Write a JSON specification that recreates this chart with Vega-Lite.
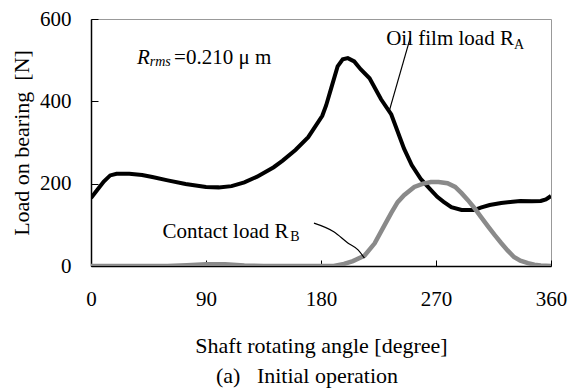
{
  "$schema": "https://vega.github.io/schema/vega-lite/v6.json",
  "autosize": {"type": "none"},
  "padding": {"left": 91, "top": 19, "right": 18, "bottom": 125},
  "width": 460,
  "height": 247,
  "background": "white",
  "config": {
    "font": "Liberation Serif",
    "view": {"stroke": "#999999", "strokeWidth": 1},
    "axis": {"grid": false, "domainColor": "black", "domainWidth": 1.5, "tickColor": "black", "tickWidth": 1, "labelFont": "Liberation Serif", "titleFont": "Liberation Serif", "labelFontSize": 21, "titleFontSize": 22, "labelColor": "black", "titleColor": "black", "titleFontWeight": "normal", "labelFlush": false},
    "title": {"font": "Liberation Serif", "fontSize": 22, "fontWeight": "normal", "color": "black"}
  },
  "title": {"text": "(a)\u00a0\u00a0\u00a0Initial operation", "orient": "bottom", "anchor": "middle", "offset": 10, "dx": -14},
  "datasets": {
    "ra": [
      {"angle": 0, "load": 165}, {"angle": 5, "load": 185}, {"angle": 10, "load": 205}, {"angle": 15, "load": 220},
      {"angle": 20, "load": 224}, {"angle": 30, "load": 224}, {"angle": 40, "load": 221}, {"angle": 48, "load": 216},
      {"angle": 60, "load": 208}, {"angle": 74, "load": 199}, {"angle": 90, "load": 192}, {"angle": 100, "load": 191},
      {"angle": 110, "load": 194}, {"angle": 120, "load": 203}, {"angle": 130, "load": 217}, {"angle": 143, "load": 240},
      {"angle": 150, "load": 256}, {"angle": 160, "load": 282}, {"angle": 170, "load": 313}, {"angle": 181, "load": 365},
      {"angle": 184, "load": 390}, {"angle": 188, "load": 432}, {"angle": 193, "load": 485}, {"angle": 197, "load": 502},
      {"angle": 201, "load": 505}, {"angle": 206, "load": 497}, {"angle": 211, "load": 478}, {"angle": 218, "load": 456},
      {"angle": 227, "load": 405}, {"angle": 235, "load": 368}, {"angle": 245, "load": 285}, {"angle": 251, "load": 245},
      {"angle": 258, "load": 212}, {"angle": 265, "load": 188}, {"angle": 271, "load": 168}, {"angle": 276, "load": 156},
      {"angle": 282, "load": 143}, {"angle": 290, "load": 136}, {"angle": 300, "load": 136}, {"angle": 305, "load": 142},
      {"angle": 312, "load": 148}, {"angle": 321, "load": 153}, {"angle": 330, "load": 156}, {"angle": 336, "load": 158},
      {"angle": 345, "load": 157}, {"angle": 352, "load": 158}, {"angle": 356, "load": 162}, {"angle": 360, "load": 170}
    ],
    "rb": [
      {"angle": 0, "load": 0}, {"angle": 60, "load": 0}, {"angle": 75, "load": 2}, {"angle": 90, "load": 4},
      {"angle": 105, "load": 4}, {"angle": 120, "load": 1}, {"angle": 135, "load": 0}, {"angle": 190, "load": 0},
      {"angle": 198, "load": 5}, {"angle": 205, "load": 12}, {"angle": 214, "load": 25}, {"angle": 222, "load": 55},
      {"angle": 229, "load": 95}, {"angle": 235, "load": 129}, {"angle": 240, "load": 155}, {"angle": 245, "load": 172},
      {"angle": 253, "load": 192}, {"angle": 260, "load": 200}, {"angle": 266, "load": 204}, {"angle": 272, "load": 204},
      {"angle": 279, "load": 201}, {"angle": 285, "load": 192}, {"angle": 290, "load": 177}, {"angle": 295, "load": 160},
      {"angle": 300, "load": 141}, {"angle": 305, "load": 120}, {"angle": 311, "load": 95}, {"angle": 316, "load": 75},
      {"angle": 321, "load": 56}, {"angle": 326, "load": 38}, {"angle": 331, "load": 22}, {"angle": 336, "load": 13},
      {"angle": 342, "load": 7}, {"angle": 347, "load": 3}, {"angle": 352, "load": 1}, {"angle": 360, "load": 0}
    ],
    "leaders": [
      {"name": "A", "order": 1, "angle": 250, "load": 556}, {"name": "A", "order": 2, "angle": 233, "load": 372},
      {"name": "B", "order": 1, "angle": 174.5, "load": 104}, {"name": "B", "order": 2, "angle": 190, "load": 83},
      {"name": "B", "order": 3, "angle": 201, "load": 56}, {"name": "B", "order": 4, "angle": 209, "load": 39},
      {"name": "B", "order": 5, "angle": 214, "load": 19}
    ],
    "labels": [
      {"text": "Oil film load R", "angle": 231, "load": 537, "kind": "main"},
      {"text": "Contact load R", "angle": 56, "load": 69, "kind": "main"},
      {"text": "=0.210 μ m", "angle": 65, "load": 490, "kind": "main"},
      {"text": "R", "angle": 36, "load": 490, "kind": "italic"},
      {"text": "rms", "angle": 46, "load": 486, "kind": "italicsub"},
      {"text": "A", "angle": 331, "load": 527, "kind": "sub"},
      {"text": "B", "angle": 156, "load": 60, "kind": "sub"}
    ]
  },
  "layer": [
    {
      "data": {"name": "ra"},
      "mark": {"type": "line", "color": "black", "strokeWidth": 4, "clip": true},
      "encoding": {
        "x": {"field": "angle", "type": "quantitative", "scale": {"domain": [0, 360], "nice": false},
          "axis": {"values": [0, 90, 180, 270, 360], "tickSize": -6, "labelPadding": 28, "title": "Shaft rotating angle [degree]", "titleX": 230, "titleY": 86, "titleBaseline": "alphabetic"}},
        "y": {"field": "load", "type": "quantitative", "scale": {"domain": [0, 600], "nice": false},
          "axis": {"values": [0, 200, 400, 600], "tickSize": -7, "labelPadding": 27, "title": "Load on bearing\u00a0\u00a0[N]", "titleX": -63, "titleY": 123.5, "titleBaseline": "alphabetic"}}
      }
    },
    {
      "data": {"name": "rb"},
      "mark": {"type": "line", "color": "#8a8a8a", "strokeWidth": 4.5, "clip": true},
      "encoding": {
        "x": {"field": "angle", "type": "quantitative"},
        "y": {"field": "load", "type": "quantitative"}
      }
    },
    {
      "data": {"name": "leaders"},
      "mark": {"type": "line", "color": "black", "strokeWidth": 1.2, "interpolate": "monotone"},
      "encoding": {
        "x": {"field": "angle", "type": "quantitative"},
        "y": {"field": "load", "type": "quantitative"},
        "detail": {"field": "name"},
        "order": {"field": "order"}
      }
    },
    {
      "data": {"name": "labels"},
      "transform": [{"filter": "datum.kind === 'main'"}],
      "mark": {"type": "text", "align": "left", "baseline": "alphabetic", "fontSize": 21, "font": "Liberation Serif", "color": "black"},
      "encoding": {
        "x": {"field": "angle", "type": "quantitative"},
        "y": {"field": "load", "type": "quantitative"},
        "text": {"field": "text"}
      }
    },
    {
      "data": {"name": "labels"},
      "transform": [{"filter": "datum.kind === 'italic'"}],
      "mark": {"type": "text", "align": "left", "baseline": "alphabetic", "fontSize": 21, "fontStyle": "italic", "font": "Liberation Serif", "color": "black"},
      "encoding": {
        "x": {"field": "angle", "type": "quantitative"},
        "y": {"field": "load", "type": "quantitative"},
        "text": {"field": "text"}
      }
    },
    {
      "data": {"name": "labels"},
      "transform": [{"filter": "datum.kind === 'italicsub'"}],
      "mark": {"type": "text", "align": "left", "baseline": "alphabetic", "fontSize": 14, "fontStyle": "italic", "font": "Liberation Serif", "color": "black"},
      "encoding": {
        "x": {"field": "angle", "type": "quantitative"},
        "y": {"field": "load", "type": "quantitative"},
        "text": {"field": "text"}
      }
    },
    {
      "data": {"name": "labels"},
      "transform": [{"filter": "datum.kind === 'sub'"}],
      "mark": {"type": "text", "align": "left", "baseline": "alphabetic", "fontSize": 14, "font": "Liberation Serif", "color": "black"},
      "encoding": {
        "x": {"field": "angle", "type": "quantitative"},
        "y": {"field": "load", "type": "quantitative"},
        "text": {"field": "text"}
      }
    }
  ]
}
